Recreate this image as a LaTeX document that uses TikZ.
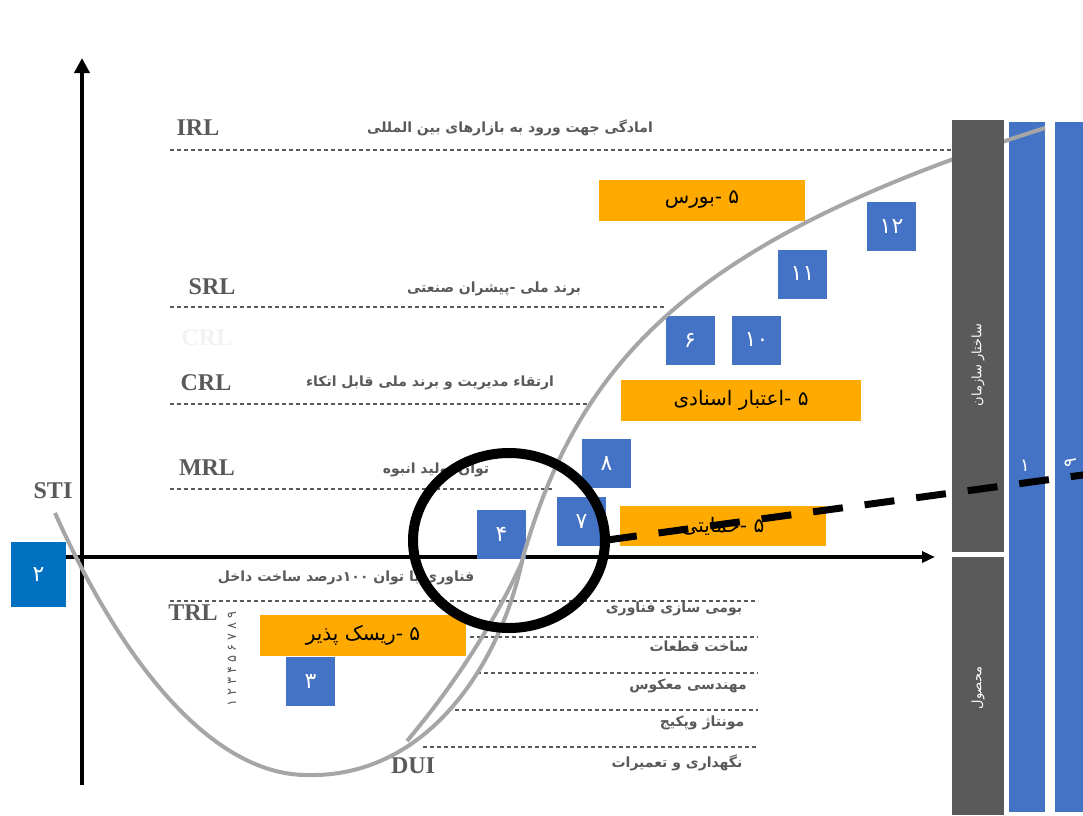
\documentclass[tikz,border=0pt]{standalone}
\usepackage{fontspec}
\setmainfont{Liberation Serif}
\newfontfamily\arabicfont[Script=Arabic]{DejaVu Sans}
\TeXXeTstate=1
\usetikzlibrary{arrows.meta}
\definecolor{txtgray}{HTML}{595959}
\definecolor{boxblue}{HTML}{4472C4}
\definecolor{deepblue}{HTML}{0070C0}
\definecolor{boxorange}{HTML}{FFAA00}
\definecolor{curvegray}{HTML}{A6A6A6}
\definecolor{bargray}{HTML}{5A5A5A}

\begin{document}
\begin{tikzpicture}[x=1pt,y=-1pt,
  lvl/.style={font=\bfseries\fontsize{24}{24}\selectfont,text=txtgray,inner sep=0pt},
  fa/.style={font=\arabicfont\bfseries\fontsize{14}{14}\selectfont,text=txtgray,inner sep=0pt},
  numbox/.style={fill=boxblue,text=white,minimum width=49pt,minimum height=49pt,inner sep=0pt,font=\arabicfont\fontsize{22}{22}\selectfont},
  orbox/.style={fill=boxorange,minimum width=206pt,minimum height=41pt,inner sep=0pt,font=\arabicfont\fontsize{20}{20}\selectfont},
  bar/.style={fill=bargray,minimum height=52pt,inner sep=0pt,text=white,font=\arabicfont\fontsize{13}{13}\selectfont},
  bluebar/.style={fill=boxblue,minimum width=36pt,minimum height=690pt,inner sep=0pt},
  guide/.style={txtgray,line width=1.2pt,dash pattern=on 4pt off 3pt}]
\useasboundingbox (0,0) rectangle (1083,815);

% level lines
\draw[guide] (170,150) -- (952,150);
\draw[guide] (170,307) -- (665,307);
\draw[guide] (170,404) -- (590,404);
\draw[guide] (170,489) -- (553,489);
\draw[guide] (170,601) -- (758,601);
\draw[guide] (470,637) -- (758,637);
\draw[guide] (477,673) -- (758,673);
\draw[guide] (455,710) -- (758,710);
\draw[guide] (423,747) -- (758,747);

% level names
\node[lvl] (irl) at (198,128) {IRL};
\node[lvl] (srl) at (212,287) {SRL};
\node[lvl,text=black!5] (crlghost) at (207,338) {CRL};
\node[lvl] (crl) at (206,383) {CRL};
\node[lvl] (mrl) at (207,468) {MRL};
\node[lvl] (sti) at (53,491) {STI};
\node[lvl] (trl) at (193,613) {TRL};
\node[lvl] (dui) at (413,766) {DUI};
\foreach \d [count=\i] in {۹,۸,۷,۶,۵,۴,۳,۲,۱}
  \node[font=\arabicfont\fontsize{13}{13}\selectfont,text=txtgray,rotate=90,inner sep=0pt] (trlstep\i) at (232,604+11*\i) {\d};

% axes
\node[numbox,fill=deepblue,minimum width=55pt,minimum height=65pt] (n2) at (38.5,574.5) {۲};
\draw[line width=4pt,-{Triangle[width=15pt,length=15pt]}] (82,785) -- (82,58);
\draw[line width=4pt,-{Triangle[width=11pt,length=13pt]}] (66,557) -- (935,557);

% boxes
\node[orbox] (bourse) at (702,200) {\beginR ۵ -بورس\endR};
\node[orbox,minimum width=240pt] (credit) at (741,400) {\beginR ۵ -اعتبار اسنادی\endR};
\node[orbox,minimum height=40pt] (support) at (723,526) {\beginR ۵ -حمایتی\endR};
\node[orbox] (risk) at (363,635.5) {\beginR ۵ -ریسک پذیر\endR};

\node[numbox] (n3) at (310.5,681.5) {۳};
\node[numbox] (n4) at (501.5,534.5) {۴};
\node[numbox] (n7) at (581.5,521.5) {۷};
\node[numbox] (n8) at (606.5,463.5) {۸};
\node[numbox] (n6) at (690,340) {۶};
\node[numbox] (n10) at (756.5,340) {۱۰};
\node[numbox] (n11) at (802.5,274) {۱۱};
\node[numbox] (n12) at (891.5,226.5) {۱۲};

% right bars
\node[bluebar] (bar1) at (1027,467) {};
\node[bluebar] (bar9) at (1073,467) {};
\node[text=white,font=\arabicfont\fontsize{18}{18}\selectfont,inner sep=0pt] (bar1num) at (1025,466) {۱};
\node[text=white,font=\arabicfont\fontsize{18}{18}\selectfont,inner sep=0pt,rotate=90] (bar9num) at (1071,463) {۹};

% curves
\coordinate (sti0) at (55,513);
\coordinate (low) at (307,775);
\coordinate (cross) at (523,557);
\coordinate (top) at (1045,128);
\coordinate (dui0) at (407,741);
\draw[curvegray,line width=4pt] (sti0) .. controls (130,680) and (220,775) .. (low)
  .. controls (425,778) and (500,668) .. (cross)
  .. controls (580,360) and (690,240) .. (top);
\draw[curvegray,line width=4pt] (dui0) .. controls (450,690) and (492,628) .. (522,562);

\node[bar,minimum width=52pt,minimum height=432pt] (orgbar) at (978,336) {};
\node[bar,minimum width=52pt,minimum height=258pt] (prodbar) at (978,686) {};
\node[bar,fill=none,rotate=90] (orgtext) at (978,365) {\beginR ساختار سازمان\endR};
\node[bar,fill=none,rotate=90] (prodtext) at (978,688) {\beginR محصول\endR};

% texts
\node[fa] (irltext) at (510,128) {\beginR امادگی جهت ورود به بازارهای بین المللی\endR};
\node[fa] (srltext) at (494,289) {\beginR برند ملی -پیشران صنعتی\endR};
\node[fa] (crltext) at (430,383) {\beginR ارتقاء  مدیریت و برند ملی قابل اتکاء\endR};
\node[fa] (mrltext) at (436,470) {\beginR توان تولید انبوه\endR};
\node[fa] (axistext) at (346,578) {\beginR فناوری با توان   \beginL۱۰۰\endL درصد ساخت داخل\endR};
\node[fa] (t1) at (674,609) {\beginR بومی سازی فناوری\endR};
\node[fa] (t2) at (699,646) {\beginR ساخت قطعات\endR};
\node[fa] (t3) at (688,686) {\beginR مهندسی معکوس\endR};
\node[fa] (t4) at (702,723) {\beginR مونتاژ وپکیج\endR};
\node[fa] (t5) at (677,763) {\beginR نگهداری و تعمیرات\endR};

% focus ring and trend
\draw[line width=10pt] (509,540.5) ellipse [x radius=96, y radius=87.5];
\coordinate (trendstart) at (607,540);
\coordinate (trendend) at (1090,474);
\draw[line width=7pt,dash pattern=on 30pt off 22pt] (trendstart) -- (trendend);
\end{tikzpicture}
\end{document}
